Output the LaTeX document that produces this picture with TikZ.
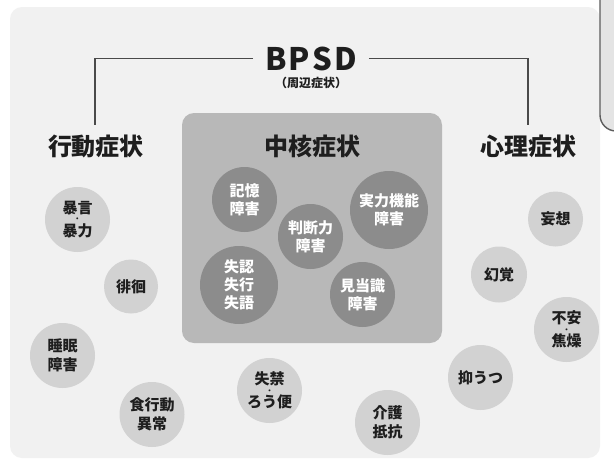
\documentclass[tikz,border=0pt]{standalone}
\usepackage{fontspec}
\setmainfont{Noto Sans CJK JP}
\definecolor{panelc}{HTML}{F1F1F1}
\definecolor{outerc}{HTML}{D2D2D2}
\definecolor{corec}{HTML}{B8B8B8}
\definecolor{innerc}{HTML}{8C8C8C}
\definecolor{linec}{HTML}{4A4A4A}
\definecolor{textc}{HTML}{1E1E1E}
\definecolor{tabc}{HTML}{E4E4E4}
\newcommand{\middot}{\\[-8.5pt]{\fontsize{7}{7}\selectfont ・}\\[-2.5pt]}
\tikzset{
  outer/.style={circle, fill=outerc, minimum size=65pt, inner sep=0pt, align=center,
    text=textc, font=\bfseries\fontsize{15}{19}\selectfont},
  outerdot/.style={outer, font=\bfseries\fontsize{15}{17}\selectfont},
  innerc/.style={circle, fill=innerc, minimum size=65pt, inner sep=0pt, align=center,
    text=white, font=\bfseries\fontsize{15}{18}\selectfont},
  heading/.style={inner sep=0pt, text=textc, font=\bfseries\fontsize{24}{24}\selectfont},
  bracket/.style={draw=linec, line width=1.2pt},
}
\begin{document}
\begin{tikzpicture}[x=1pt,y=-1pt]
\useasboundingbox (0,0) rectangle (614,461);
\fill[white] (0,0) rectangle (614,461);
% background panel
\fill[panelc, rounded corners=12pt] (10,7) rectangle (600,458);
% partial box at top right
\draw[draw=linec!90, line width=1.4pt, fill=tabc, rounded corners=16pt] (600,-40) rectangle (670,131);
% core box
\fill[corec, rounded corners=12pt] (182,113) rectangle (442,343);

% title
\node[inner xsep=12pt, inner ysep=0pt, text=textc, font=\bfseries\fontsize{31}{31}\selectfont] (bpsd) at (311,58.5) {B\kern2pt P\kern2pt S\kern2pt D};
\node[inner sep=0pt, text=textc, font=\bfseries\fontsize{12}{12}\selectfont] (sub) at (311,83) {（周辺症状）};

% headings
\node[heading] (kodo) at (96,146) {行動症状};
\node[heading] (chukaku) at (312,146) {中核症状};
\node[heading] (shinri) at (528,146) {心理症状};

\coordinate (lend) at (95,125);
\coordinate (rend) at (528,125);
\draw[bracket] (bpsd.west) -| (lend);
\draw[bracket] (bpsd.east) -| (rend);

% core symptoms
\node[innerc] (kioku) at (244.5,199.5) {記憶\\障害};
\node[innerc, minimum size=78pt] (jitsuryoku) at (389,210) {実力機能\\障害};
\node[innerc] (handan) at (310.5,236.5) {判断力\\障害};
\node[innerc, minimum size=78pt] (shitsunin) at (239,285) {失認\\失行\\失語};
\node[innerc] (kento) at (362.5,294.5) {見当識\\障害};

% behavioural symptoms
\node[outerdot] (boryoku) at (77.5,219.5) {暴言\middot 暴力};
\node[outer, minimum size=54pt] (haikai) at (131,286.5) {徘徊};
\node[outer] (suimin) at (62.5,355.5) {睡眠\\障害};
\node[outer] (shoku) at (152,414.5) {食行動\\異常};
\node[outerdot] (shikkin) at (269.5,390.5) {失禁\middot ろう便};
\node[outer] (kaigo) at (387.5,422.5) {介護\\抵抗};

% psychological symptoms
\node[outer, minimum size=55pt] (moso) at (555.5,219) {妄想};
\node[outer, minimum size=56pt] (genkaku) at (499,274.5) {幻覚};
\node[outerdot] (fuan) at (566.5,329.5) {不安\middot 焦燥};
\node[outer] (yokuutsu) at (480.5,377.5) {抑うつ};
\end{tikzpicture}
\end{document}
